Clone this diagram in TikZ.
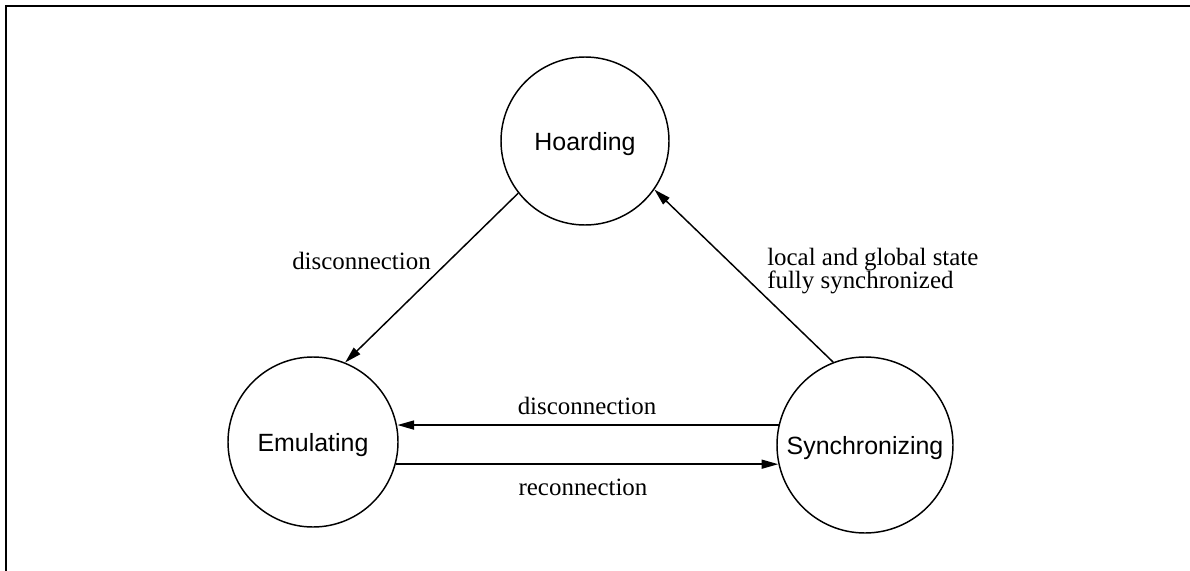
\documentclass[tikz,border=0pt]{standalone}
\usepackage{fontspec}
\setmainfont{Liberation Serif}
\setsansfont{Liberation Sans}
\usetikzlibrary{arrows.meta}
\begin{document}
\begin{tikzpicture}[x=0.75pt,y=-0.75pt,
  state/.style={draw,circle,line width=1.1pt,inner sep=0pt,minimum size=#1*1.5pt,
    font=\sffamily\fontsize{18.7}{22}\selectfont,text depth=0pt},
  conn/.style={line width=1.1pt,-{Triangle[length=12.5pt,width=6.8pt]}},
  lbl/.style={inner sep=0pt,font=\rmfamily\fontsize{18.7}{17.25}\selectfont},
  frame/.style={line width=2pt}]
\useasboundingbox (0,0) rectangle (1190,571);
\coordinate (fa) at (6,571);
\coordinate (fb) at (6,6);
\coordinate (fc) at (1190,6);
\draw[frame] (fa) -- (fb) -- (fc);
\node[state=84] (H) at (585,141) {Hoarding};
\node[state=85] (E) at (313,442) {Emulating};
\node[state=88] (S) at (865,445) {Synchronizing};
\draw[conn] (H.218) -- (E.68.6);
\draw[conn] (S.111.7) -- (H.325.6);
\draw[conn] (S.167.5) -- (E.10.8 |- S.167.5);
\draw[conn] (E.-15) -- (S.192.5 |- E.-15);
\node[lbl,anchor=base east] (l1) at (431,269) {disconnection};
\node[lbl,anchor=north west,align=left] (l2) at (767,248) {local and global state\\fully synchronized};
\node[lbl,anchor=base] (l3) at (587,414) {disconnection};
\node[lbl,anchor=base] (l4) at (583,495) {reconnection};
\end{tikzpicture}
\end{document}
